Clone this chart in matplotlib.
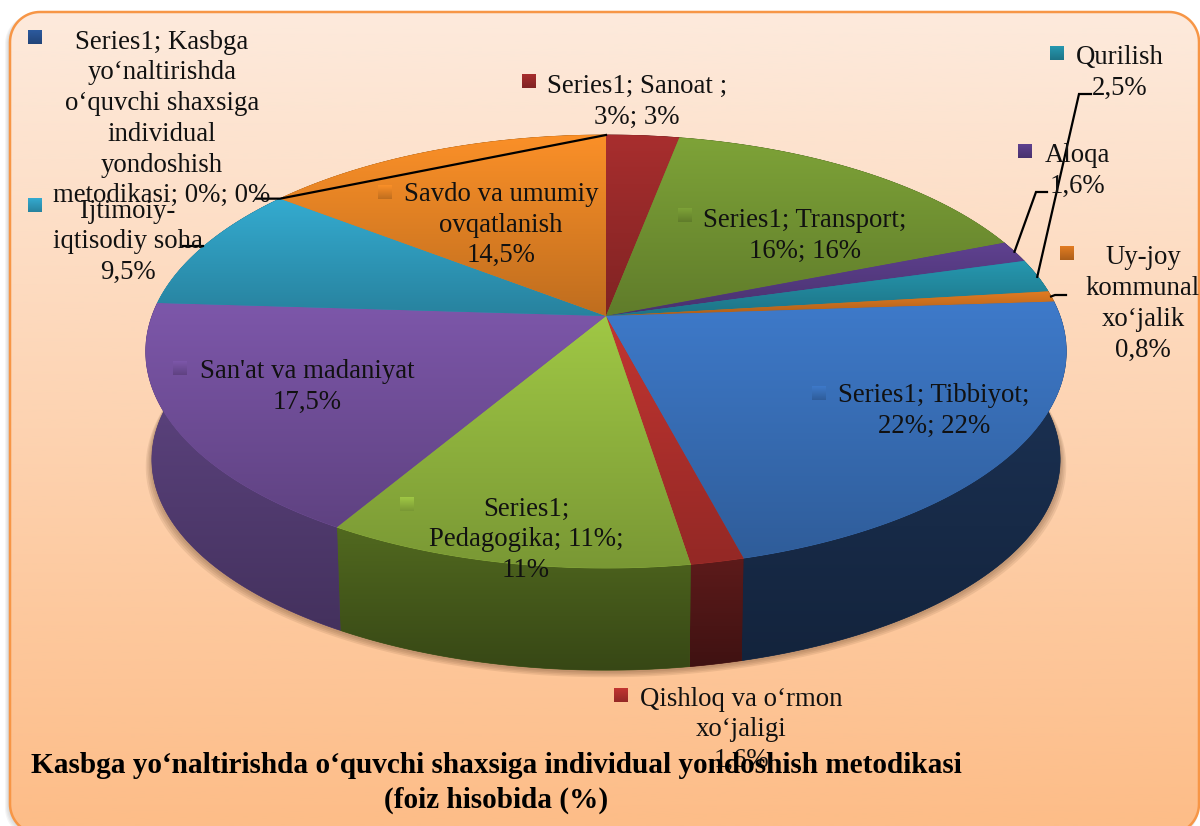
#!/usr/bin/env python3

import numpy as np
import matplotlib
matplotlib.use('Agg')
import matplotlib.pyplot as plt
from matplotlib.colors import to_rgb
from matplotlib.patches import Polygon

plt.rcParams['font.family'] = ['Liberation Serif', 'DejaVu Serif']

# clockwise from the top of the pie
names = ['Sanoat', 'Transport', 'Aloqa', 'Qurilish', 'Uy-joy kommunal',
         'Tibbiyot', 'Qishloq va o\u2018rmon', 'Pedagogika', "San'at va madaniyat",
         'Ijtimoiy-iqtisodiy soha', 'Kasbga', 'Savdo va umumiy']
values = [3, 16, 1.6, 2.5, 0.8, 22, 1.6, 11, 17.5, 9.5, 0, 14.5]
labels = ['Series1; Sanoat ;\n3%; 3%',
          'Series1; Transport;\n16%; 16%',
          'Aloqa\n1,6%',
          'Qurilish\n2,5%',
          'Uy-joy\nkommunal\nxo\u2018jalik\n0,8%',
          'Series1; Tibbiyot;\n22%; 22%',
          'Qishloq va o\u2018rmon\nxo\u2018jaligi\n1,6%',
          'Series1;\nPedagogika; 11%;\n11%',
          "San'at va madaniyat\n17,5%",
          'Ijtimoiy-\niqtisodiy soha\n9,5%',
          'Series1; Kasbga\nyo\u2018naltirishda\no\u2018quvchi shaxsiga\nindividual\nyondoshish\nmetodikasi; 0%; 0%',
          'Savdo va umumiy\novqatlanish\n14,5%']
title = 'Kasbga yo\u2018naltirishda o\u2018quvchi shaxsiga individual yondoshish metodikasi\n(foiz hisobida (%)'

top_colors = ['#a82e2e', '#7ea338', '#5f4190', '#2698b0', '#e27c22', '#3e7aca',
              '#c23531', '#a0c845', '#7d57aa', '#34abd0', '#2c5a9e', '#fb9028']
wall_colors = ['#4a1515', '#37491a', '#30234a', '#124a57', '#6e3c10', '#172a47',
               '#4a1515', '#415419', '#503a6e', '#1a5568', '#14294a', '#7a4510']

# pie perspective, all in picture pixels
cx, cy = 606, 316
rx, ry = 454, 210.7
persp = 0.164
base_cy, base_rx, base_ry = 425, 448, 205

# block centre of each label, marker corner, same order as labels
label_pos = [(637, 102), (805, 236), (1077, 171), (1120, 73), (1143, 304), (934, 411),
             (741, 730), (526, 540), (307, 387), (128, 242), (162, 119), (501, 225)]
marker_pos = [(522, 74), (678, 208), (1018, 144), (1050, 46), (1060, 246), (812, 386),
              (614, 688), (400, 497), (173, 361), (28, 198), (28, 30), (378, 185)]


def project(t):
    # t is the angle clockwise from the top, in radians
    w = 1 + persp * np.cos(t)
    return cx + rx * np.sin(t) / w, cy - ry * np.cos(t) / w


def project_base(t, grow=0.0):
    w = 1 + persp * np.cos(t)
    return cx + (base_rx + grow) * np.sin(t) / w, base_cy + grow - base_ry * np.cos(t) / w


def gradient(ax, x0, x1, y0, y1, c_top, c_bottom, clip=None, z=1):
    c_top = np.array(to_rgb(c_top))
    c_bottom = np.array(to_rgb(c_bottom))
    f = np.linspace(0, 1, 128)[:, None, None]
    img = c_top * (1 - f) + c_bottom * f
    im = ax.imshow(img, extent=(x0, x1, y1, y0), aspect='auto', zorder=z,
                   interpolation='bilinear')
    if clip is not None:
        im.set_clip_path(clip)
    return im


def darker(c, k):
    return tuple(np.clip(np.array(to_rgb(c)) * k, 0, 1))


def rounded_box(x0, y0, x1, y1, r):
    a = np.linspace(0, np.pi / 2, 20)
    pts = [np.c_[x0 + r - r * np.cos(a), y0 + r - r * np.sin(a)],
           np.c_[x1 - r + r * np.sin(a), y0 + r - r * np.cos(a)],
           np.c_[x1 - r + r * np.cos(a), y1 - r + r * np.sin(a)],
           np.c_[x0 + r - r * np.sin(a), y1 - r + r * np.cos(a)]]
    return np.vstack(pts)


fig = plt.figure(figsize=(12, 8.26), dpi=100)
ax = fig.add_axes([0, 0, 1, 1])
ax.axis('off')

# background card
for i in range(5):
    ax.add_patch(Polygon(rounded_box(9 - i, 14, 1199, 834 + i, 30), fc='#808080', ec='none',
                         alpha=0.08, zorder=0))
card = Polygon(rounded_box(10, 12, 1199, 834, 30), fc='none', ec='#f79646', lw=1.8, zorder=1.5)
ax.add_patch(card)
gradient(ax, 0, 1200, 12, 826, '#fdeadc', '#fdbd88', clip=card, z=1)

edges = np.cumsum([0] + values) / np.sum(values) * 2 * np.pi
t_all = np.linspace(0, 2 * np.pi, 720)

# soft shadow under the pie body
for s in [6, 4.5, 3, 1.5]:
    xs, ys = project_base(t_all, s)
    ax.add_patch(Polygon(np.c_[xs, ys + 1], fc='#5a3a20', ec='none', alpha=0.10, zorder=2))

# side walls first, tops go over them
for i in range(len(values)):
    if values[i] == 0:
        continue
    t = np.linspace(edges[i], edges[i + 1], 80)
    x1, y1 = project(t)
    x2, y2 = project_base(t)
    pts = np.r_[np.c_[x1, y1], np.c_[x2, y2][::-1]]
    wall = Polygon(pts, fc=wall_colors[i], ec=wall_colors[i], lw=0.5, zorder=3)
    ax.add_patch(wall)
    gradient(ax, pts[:, 0].min(), pts[:, 0].max(), pts[:, 1].min(), pts[:, 1].max(),
             darker(wall_colors[i], 1.25), darker(wall_colors[i], 0.85), clip=wall, z=3.1)

for i in range(len(values)):
    if values[i] == 0:
        continue
    t = np.linspace(edges[i], edges[i + 1], 120)
    xs, ys = project(t)
    pts = np.r_[[(cx, cy)], np.c_[xs, ys]]
    c = top_colors[i]
    wedge = Polygon(pts, fc=darker(c, 0.9), ec=darker(c, 0.9), lw=0.5, zorder=4)
    ax.add_patch(wedge)
    gradient(ax, pts[:, 0].min(), pts[:, 0].max(), pts[:, 1].min(), pts[:, 1].max(),
             c, darker(c, 0.76), clip=wedge, z=4.1)


# leader lines, anchored on the rim of their slices
def mid(i):
    return (edges[i] + edges[i + 1]) / 2


line_kw = dict(color='black', lw=1.6, zorder=5, solid_joinstyle='miter')
x, y = project(edges[10])
ax.plot([256, x, project(edges[0])[0]], [y, y, project(edges[0])[1]], **line_kw)
ax.plot([183, 203], [246, 246], **line_kw)
x, y = project(mid(3))
ax.plot([x, 1079, 1091], [y + 1, 94, 94], **line_kw)
x, y = project(mid(2))
ax.plot([x, 1036, 1047], [y, 192, 192], **line_kw)
x, y = project(mid(4))
ax.plot([x, 1055, 1066], [y, 295, 295], **line_kw)

for i in range(len(values)):
    mx, my = marker_pos[i]
    c = top_colors[i]
    gradient(ax, mx, mx + 14, my, my + 14, c, darker(c, 0.76), z=6)
    ax.text(label_pos[i][0], label_pos[i][1], labels[i], ha='center', va='center',
            ma='center', fontsize=19.3, color='#111111', linespacing=1.3, zorder=7)

ax.text(496, 783, title, ha='center', va='center', ma='center', fontsize=21.1,
        fontweight='bold', color='black', linespacing=1.33, zorder=8)

ax.set_xlim(0, 1200)
ax.set_ylim(826, 0)
fig.savefig('out.png', dpi=100, facecolor='white')
